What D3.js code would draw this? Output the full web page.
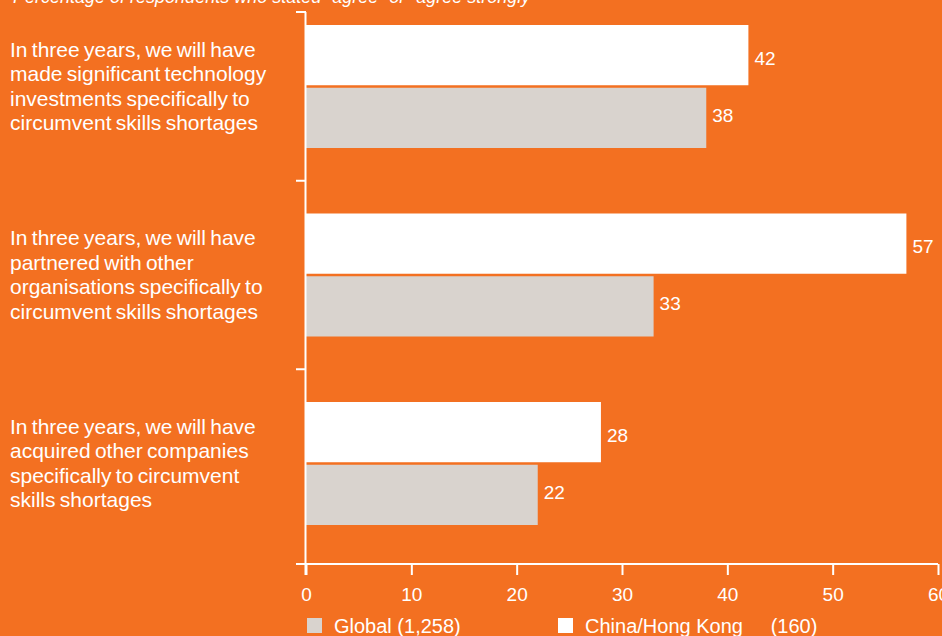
<!DOCTYPE html>
<html>
<head>
<meta charset="utf-8">
<script src="https://cdn.jsdelivr.net/npm/d3@7"></script>
<style>
  body { margin: 0; background: #F37021; }
  svg { display: block; font-family: "Liberation Sans", Arial, sans-serif; }
</style>
</head>
<body>
<div id="chart"></div>
<script>
// data
const statements = [
    ["In three years, we will have", "made significant technology", "investments specifically to", "circumvent skills shortages"],
    ["In three years, we will have", "partnered with other", "organisations specifically to", "circumvent skills shortages"],
    ["In three years, we will have", "acquired other companies", "specifically to circumvent", "skills shortages"]
]
const chinaHK = [42, 57, 28]
const global = [38, 33, 22]
const seriesNames = ["China/Hong Kong", "Global"]
const legendLabels = ["Global (1,258)", "China/Hong Kong     (160)"]
const xTicks = [0, 10, 20, 30, 40, 50, 60]

const w = 942
const h = 636
const bg = "#F37021"
const grey = "#D9D3CE"

const svg = d3.select("#chart")
    .append("svg")
    .attr("width", w)
    .attr("height", h)

svg.append("rect").attr("width", w).attr("height", h).attr("fill", bg)

const data = statements.map((s, i) => ({
    id: i,
    lines: s,
    values: [chinaHK[i], global[i]]
}))

// scales
const xScale = d3.scaleLinear()
    .domain([0, 60])
    .range([306, 938])

const yScale = d3.scaleBand()
    .domain(data.map(d => d.id))
    .range([-7.75, 557.75])
    .padding(0)

const subScale = d3.scaleBand()
    .domain(seriesNames)
    .range([0, 123])
    .paddingInner(0.04)

const bandPad = (yScale.bandwidth() - 123) / 2

// subtitle (cut off at the top)
svg.append("text")
    .attr("x", 6)
    .attr("y", 3)
    .attr("fill", "#fff")
    .attr("font-size", 18)
    .attr("font-style", "italic")
    .text("*Percentage of respondents who stated \u201cagree\u201d or \u201cagree strongly\u201d")

// bars
const groups = svg.append("g")
    .selectAll("g")
    .data(data)
    .enter()
    .append("g")
        .attr("transform", d => "translate(0," + (yScale(d.id) + bandPad) + ")")

groups.selectAll("rect")
    .data(d => d.values.map((v, j) => ({ name: seriesNames[j], value: v })))
    .enter()
    .append("rect")
        .attr("x", xScale(0))
        .attr("y", d => subScale(d.name))
        .attr("width", d => xScale(d.value) - xScale(0))
        .attr("height", subScale.bandwidth())
        .attr("fill", d => d.name === "Global" ? grey : "#fff")

// value labels sit a bit towards the gap between the two bars
groups.selectAll("text.val")
    .data(d => d.values.map((v, j) => ({ name: seriesNames[j], value: v })))
    .enter()
    .append("text")
        .attr("class", "val")
        .attr("x", d => xScale(d.value) + 6)
        .attr("y", d => subScale(d.name) + subScale.bandwidth() / 2 + 7 + (d.name === "Global" ? -3 : 2.5))
        .attr("fill", "#fff")
        .attr("font-size", 19)
        .text(d => d.value)

// category labels
svg.append("g")
    .selectAll("text")
    .data(data)
    .enter()
    .append("text")
        .attr("x", 10)
        .attr("y", d => yScale(d.id) + yScale.bandwidth() / 2 - 30)
        .attr("fill", "#fff")
        .attr("font-size", 21)
        .attr("word-spacing", -1.5)
        .selectAll("tspan")
        .data(d => d.lines)
        .enter()
        .append("tspan")
            .attr("x", 10)
            .attr("dy", (d, i) => i === 0 ? 0 : 24.5)
            .text(d => d)

// y axis
const axisY = 564
const yAxisG = svg.append("g").attr("stroke", "#fff").attr("stroke-width", 2)
yAxisG.append("line")
    .attr("x1", xScale(0) - 0.5).attr("x2", xScale(0) - 0.5)
    .attr("y1", 12).attr("y2", 575)
const yTickPos = [12].concat(data.slice(1).map(d => yScale(d.id)))
yAxisG.selectAll("line.tick")
    .data(yTickPos)
    .enter()
    .append("line")
        .attr("class", "tick")
        .attr("x1", 296).attr("x2", xScale(0))
        .attr("y1", d => d).attr("y2", d => d)

// x axis
const xAxis = d3.axisBottom(xScale)
    .tickValues(xTicks)
    .tickSize(11)
    .tickSizeOuter(0)
    .tickPadding(13)

const xAxisG = svg.append("g")
    .attr("transform", "translate(0," + axisY + ")")
    .call(xAxis)

xAxisG.select(".domain").remove()
xAxisG.selectAll(".tick line").attr("stroke", "#fff").attr("stroke-width", 2)
xAxisG.selectAll(".tick text")
    .attr("fill", "#fff")
    .attr("font-size", 19)
    .attr("font-family", "Liberation Sans, Arial, sans-serif")
xAxisG.append("line")
    .attr("x1", 296).attr("x2", xScale(60))
    .attr("y1", 0).attr("y2", 0)
    .attr("stroke", "#fff")
    .attr("stroke-width", 2)

// legend
const legend = svg.append("g")
    .selectAll("g")
    .data([[307, grey, legendLabels[0]], [558, "#fff", legendLabels[1]]])
    .enter()
    .append("g")
        .attr("transform", d => "translate(" + d[0] + ",618)")

legend.append("rect")
    .attr("width", 15)
    .attr("height", 15)
    .attr("fill", d => d[1])

legend.append("text")
    .attr("x", 27)
    .attr("y", 15)
    .attr("fill", "#fff")
    .attr("font-size", 20)
    .attr("xml:space", "preserve")
    .style("white-space", "pre")
    .text(d => d[2])
</script>
</body>
</html>
